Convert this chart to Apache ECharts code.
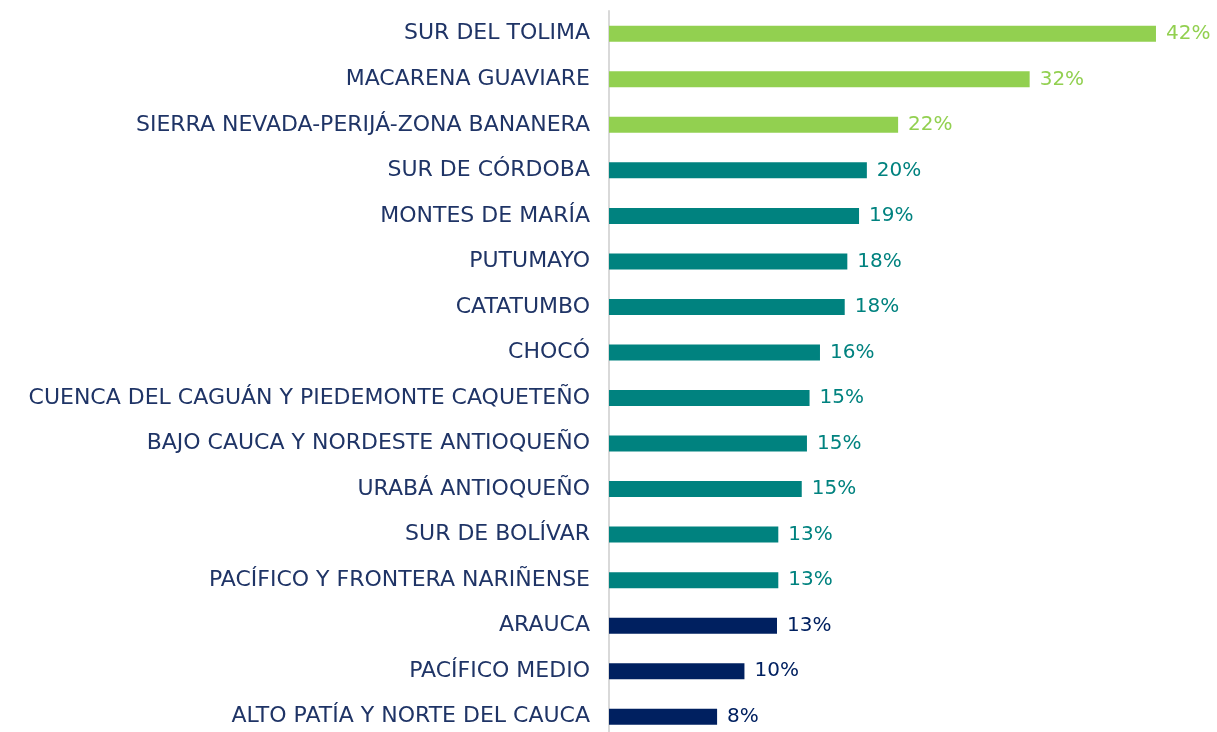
<!DOCTYPE html>
<html>
<head>
<meta charset="utf-8">
<script src="https://cdn.jsdelivr.net/npm/echarts@6/dist/echarts.min.js"></script>
<style>
  html, body { margin: 0; padding: 0; background: #fff; }
  #chart { width: 1217px; height: 732px; }
</style>
</head>
<body>
<div id="chart"></div>
<script>
// regiones, de arriba hacia abajo
const regiones = [
  'SUR DEL TOLIMA',
  'MACARENA GUAVIARE',
  'SIERRA NEVADA-PERIJÁ-ZONA BANANERA',
  'SUR DE CÓRDOBA',
  'MONTES DE MARÍA',
  'PUTUMAYO',
  'CATATUMBO',
  'CHOCÓ',
  'CUENCA DEL CAGUÁN Y PIEDEMONTE CAQUETEÑO',
  'BAJO CAUCA Y NORDESTE ANTIOQUEÑO',
  'URABÁ ANTIOQUEÑO',
  'SUR DE BOLÍVAR',
  'PACÍFICO Y FRONTERA NARIÑENSE',
  'ARAUCA',
  'PACÍFICO MEDIO',
  'ALTO PATÍA Y NORTE DEL CAUCA'
];
// porcentajes
const valores = [42.0, 32.3, 22.2, 19.8, 19.2, 18.3, 18.1, 16.2, 15.4, 15.2, 14.8, 13.0, 13.0, 12.9, 10.4, 8.3];
// grupo de color de cada barra: 0 verde, 1 verde azulado, 2 azul oscuro
const grupos = [0, 0, 0, 1, 1, 1, 1, 1, 1, 1, 1, 1, 1, 2, 2, 2];
const colores = ['#92D050', '#00827F', '#002060'];

const chart = echarts.init(document.getElementById('chart'));

const option = {
  animation: false,
  grid: { left: 609, top: 11, width: 560, height: 728.5, outerBoundsMode: 'none', containLabel: false },
  xAxis: {
    type: 'value',
    min: 0,
    max: 43,
    show: false
  },
  yAxis: {
    type: 'category',
    inverse: true,
    data: regiones,
    axisLine: { show: true, lineStyle: { color: '#d9d9d9', width: 2 } },
    axisTick: { show: false },
    axisLabel: {
      color: '#1F3466',
      fontFamily: 'DejaVu Sans',
      fontSize: 22,
      margin: 19
    }
  },
  series: [{
    type: 'bar',
    barWidth: 16,
    data: valores.map((v, i) => ({
      value: v,
      itemStyle: { color: colores[grupos[i]] },
      label: { color: colores[grupos[i]] }
    })),
    label: {
      show: true,
      position: 'right',
      distance: 10,
      fontFamily: 'DejaVu Sans',
      fontSize: 20,
      formatter: p => Math.round(p.value) + '%'
    }
  }]
};

chart.setOption(option);
</script>
</body>
</html>
